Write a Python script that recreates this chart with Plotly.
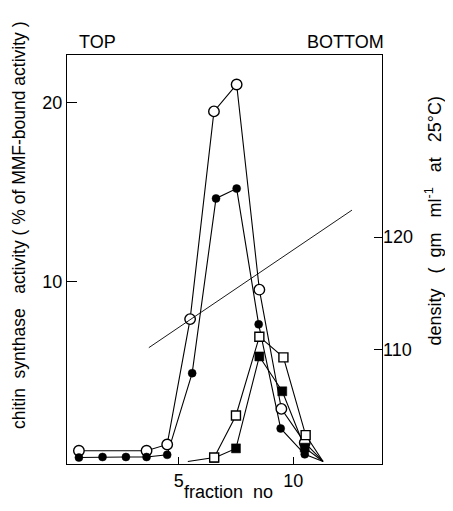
import plotly.graph_objects as go

# Data
open_circle_x = [0.65, 3.6, 4.5, 5.5, 6.54, 7.53, 8.52, 9.48, 10.5, 11.3]
open_circle_y = [0.6, 0.6, 0.95, 7.93, 19.5, 21.0, 9.57, 2.93, 1.05, 0.0]

filled_circle_x = [0.65, 1.68, 2.7, 3.6, 4.5, 5.59, 6.63, 7.53, 8.49, 9.45, 10.5, 11.3]
filled_circle_y = [0.22, 0.25, 0.25, 0.25, 0.37, 4.92, 14.65, 15.2, 7.64, 1.84, 0.4, 0.0]

open_square_x = [5.4, 6.55, 7.5, 8.52, 9.57, 10.54, 11.3]
open_square_y = [0.0, 0.22, 2.56, 6.95, 5.8, 1.47, 0.0]

filled_square_x = [6.55, 7.5, 8.52, 9.52, 10.5, 11.3]
filled_square_y = [0.2, 0.73, 5.85, 3.91, 0.77, 0.0]

density_x = [3.7, 12.56]
density_y = [110.2, 122.4]

x_ticks = [5, 10]
y_ticks = [10, 20]
density_ticks = [110, 120]

FONT = "Liberation Sans, Arial, sans-serif"
LINE_W = 1.1
SP = "\u00a0"

fig = go.Figure()

fig.add_trace(go.Scatter(x=density_x, y=density_y, mode="lines", yaxis="y2",
                         line=dict(color="black", width=0.9), showlegend=False))

fig.add_trace(go.Scatter(x=open_circle_x, y=open_circle_y, mode="lines",
                         line=dict(color="black", width=LINE_W), showlegend=False))
fig.add_trace(go.Scatter(x=filled_circle_x, y=filled_circle_y, mode="lines",
                         line=dict(color="black", width=LINE_W), showlegend=False))
fig.add_trace(go.Scatter(x=open_square_x, y=open_square_y, mode="lines",
                         line=dict(color="black", width=LINE_W), showlegend=False))
fig.add_trace(go.Scatter(x=filled_square_x, y=filled_square_y, mode="lines",
                         line=dict(color="black", width=LINE_W), showlegend=False))

# markers (end points at zero have no marker)
fig.add_trace(go.Scatter(x=open_circle_x[:-1], y=open_circle_y[:-1], mode="markers",
                         marker=dict(symbol="circle", size=10.5, color="white",
                                     line=dict(color="black", width=1.4)),
                         showlegend=False))
fig.add_trace(go.Scatter(x=filled_circle_x[:-1], y=filled_circle_y[:-1], mode="markers",
                         marker=dict(symbol="circle", size=8, color="black",
                                     line=dict(color="black", width=0.5)),
                         showlegend=False))
fig.add_trace(go.Scatter(x=filled_square_x[:-1], y=filled_square_y[:-1], mode="markers",
                         marker=dict(symbol="square", size=9, color="black",
                                     line=dict(color="black", width=0.5)),
                         showlegend=False))
fig.add_trace(go.Scatter(x=open_square_x[1:-1], y=open_square_y[1:-1], mode="markers",
                         marker=dict(symbol="square", size=9, color="white",
                                     line=dict(color="black", width=1.4)),
                         showlegend=False))

left_title = ("chitin" + SP * 2 + "synthase" + SP * 3 + "activity" + SP + "(" + SP + "%" + SP
              + "of" + SP + "MMF-bound" + SP + "activity" + SP + ")")
right_title = ("density" + SP * 3 + "(" + SP * 2 + "gm" + SP * 3 + "ml<sup>-1</sup>" + SP * 3
               + "at" + SP * 3 + "25°C)")

# The page body has an 8px default margin: shrink the figure so that the
# page needs no scrollbar, and reduce the left/top margins accordingly.
fig.update_layout(
    width=445, height=495,
    margin=dict(l=59, r=71, t=47, b=37),
    paper_bgcolor="white", plot_bgcolor="white",
    font=dict(family=FONT, color="black", size=17),
    xaxis=dict(range=[0.13, 13.87], tickvals=x_ticks, ticktext=[str(v) for v in x_ticks],
               ticks="inside", ticklen=7, tickwidth=1, tickcolor="black",
               showline=True, linecolor="black", linewidth=1, mirror=True,
               showgrid=False, zeroline=False, tickfont=dict(size=18)),
    yaxis=dict(range=[-0.14, 22.64], tickvals=y_ticks, ticktext=[str(v) for v in y_ticks],
               ticks="inside", ticklen=10, tickwidth=1, tickcolor="black",
               showline=True, linecolor="black", linewidth=1, mirror=True,
               showgrid=False, zeroline=False, tickfont=dict(size=18)),
    yaxis2=dict(range=[99.88, 136.16], overlaying="y", side="right",
                tickvals=density_ticks, ticktext=[str(v) for v in density_ticks],
                ticks="inside", ticklen=8, tickwidth=1, tickcolor="black",
                showline=False, showgrid=False, zeroline=False, tickfont=dict(size=18)),
    annotations=[
        dict(text="TOP", xref="paper", yref="paper", x=(77 - 67) / 315, y=(466.5 - 42) / 411.5,
             xanchor="left", yanchor="middle", showarrow=False, font=dict(size=18)),
        dict(text="BOTTOM", xref="paper", yref="paper", x=(386 - 67) / 315, y=(466.5 - 42) / 411.5,
             xanchor="right", yanchor="middle", showarrow=False, font=dict(size=18)),
        dict(text="fraction" + SP * 2 + "no", xref="paper", yref="paper", x=(229 - 67) / 315,
             y=(466.5 - 495) / 411.5, xanchor="center", yanchor="middle", showarrow=False,
             font=dict(size=18)),
        dict(text=left_title,
             xref="paper", yref="paper", x=(19 - 67) / 315, y=(466.5 - 226) / 411.5,
             xanchor="center", yanchor="middle", textangle=-90, showarrow=False,
             font=dict(size=17.5)),
        dict(text=right_title,
             xref="paper", yref="paper", x=(434.5 - 67) / 315, y=(466.5 - 222) / 411.5,
             xanchor="center", yanchor="middle", textangle=-90, showarrow=False,
             font=dict(size=18)),
    ],
)

fig.write_html("out.html")
